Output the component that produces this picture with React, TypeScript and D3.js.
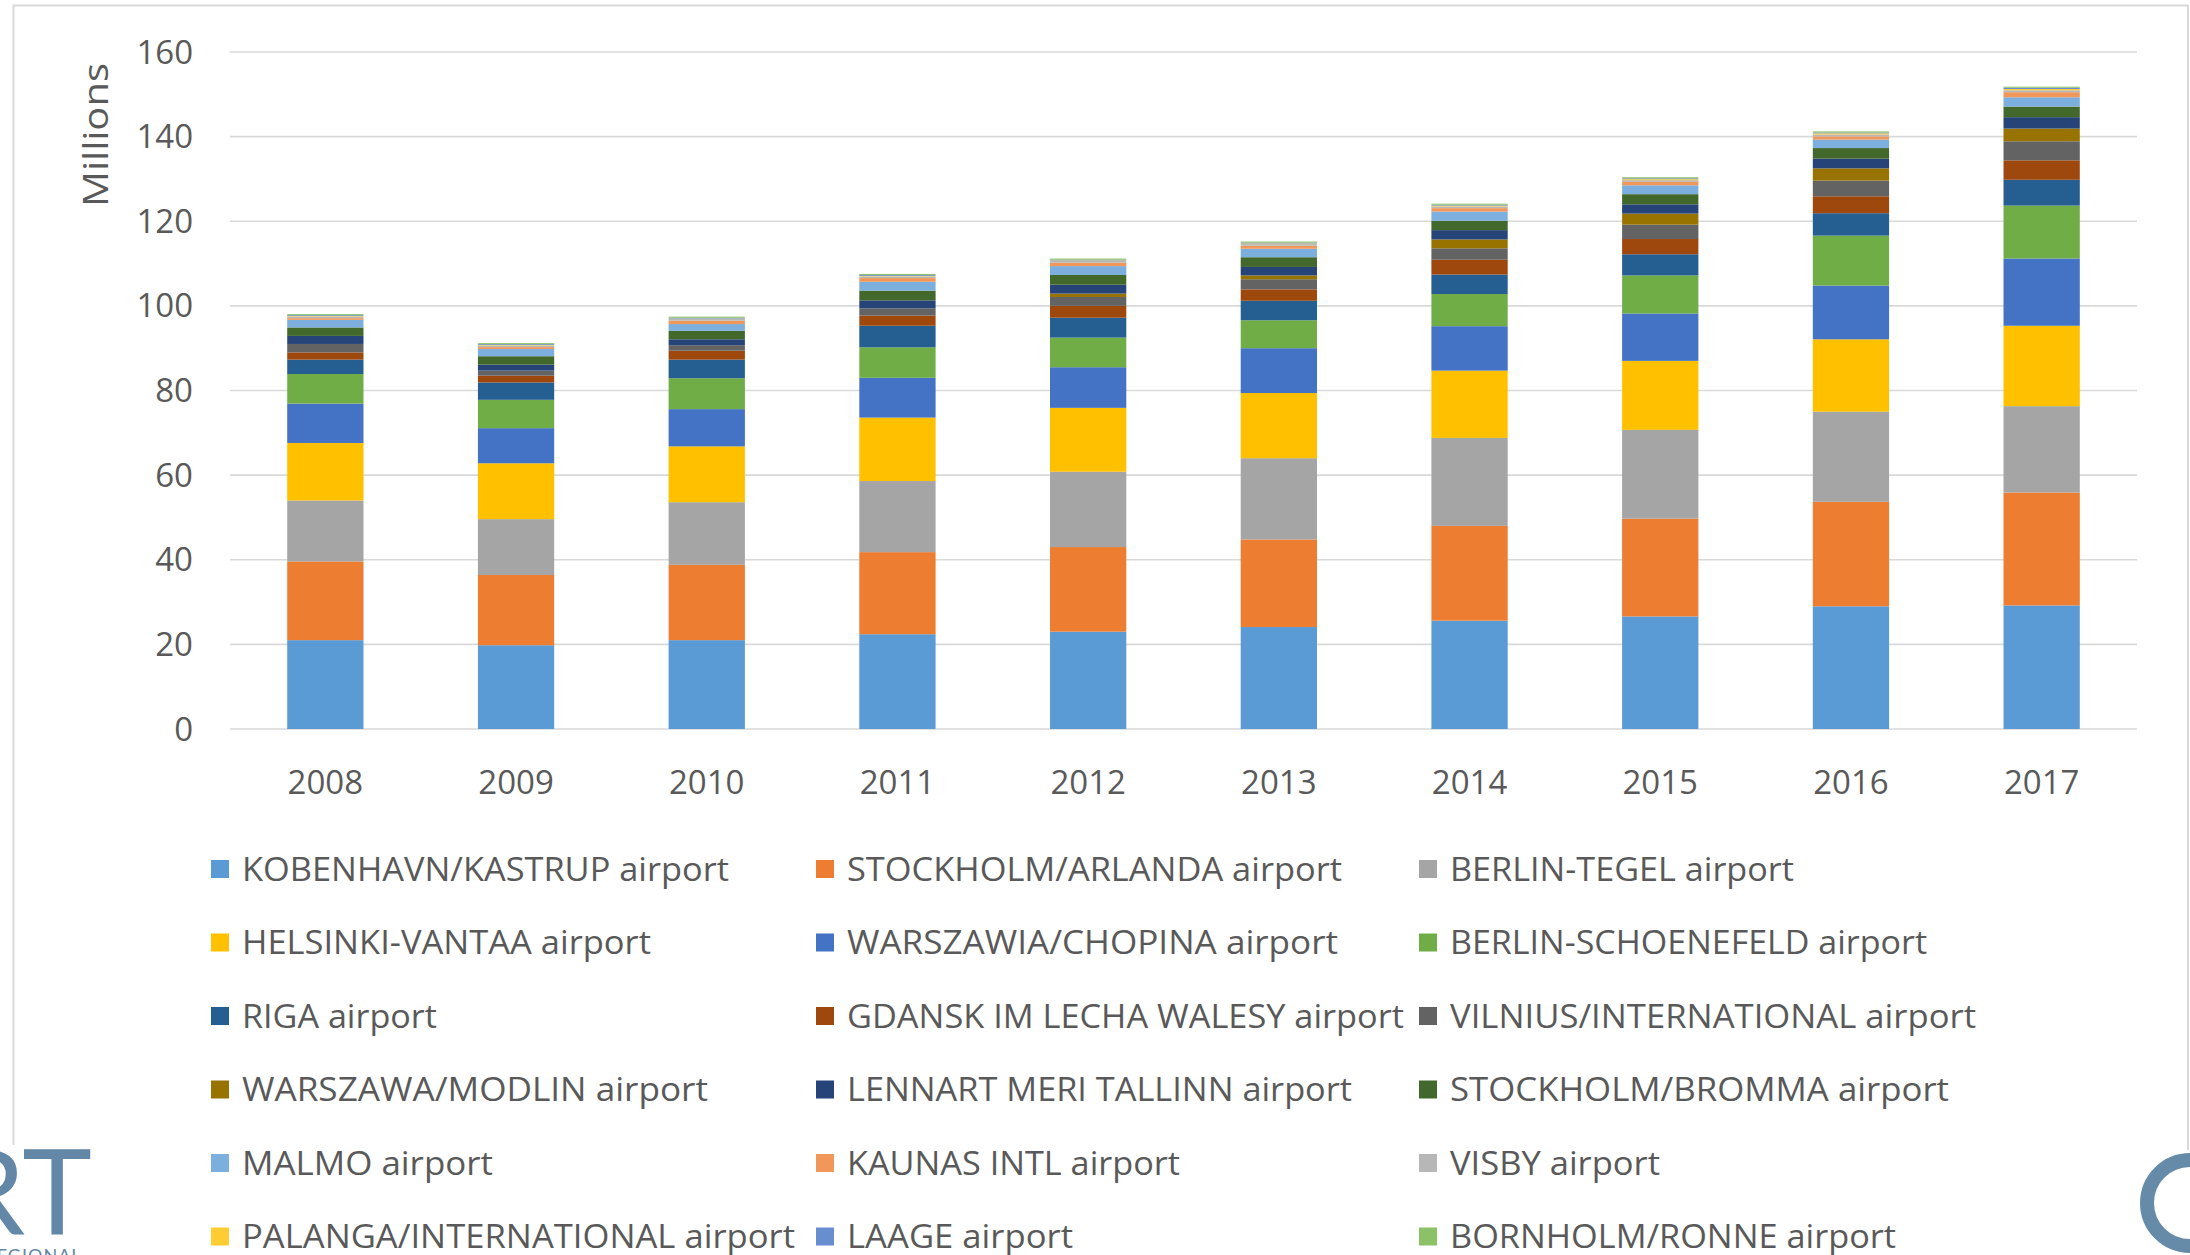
import React from "react";
import * as d3 from "d3";

const W = 2190;
const H = 1255;

const years = ["2008", "2009", "2010", "2011", "2012", "2013", "2014", "2015", "2016", "2017"];
const yTicks = [0, 20, 40, 60, 80, 100, 120, 140, 160];

// passengers, millions
const kobenhavn = [21.0, 19.8, 21.0, 22.4, 23.0, 24.1, 25.6, 26.6, 29.0, 29.2];
const arlanda = [18.6, 16.6, 17.8, 19.4, 20.0, 20.7, 22.4, 23.1, 24.7, 26.7];
const tegel = [14.4, 13.2, 14.8, 16.8, 17.8, 19.2, 20.8, 21.0, 21.3, 20.4];
const helsinki = [13.6, 13.2, 13.2, 15.0, 15.1, 15.4, 15.9, 16.3, 17.1, 19.0];
const chopina = [9.3, 8.3, 8.8, 9.4, 9.6, 10.6, 10.5, 11.2, 12.7, 15.9];
const schoenefeld = [7.0, 6.7, 7.3, 7.2, 7.0, 6.6, 7.6, 9.0, 11.8, 12.5];
const riga = [3.4, 4.1, 4.4, 5.1, 4.7, 4.6, 4.6, 5.0, 5.3, 6.1];
const gdansk = [1.7, 1.6, 2.1, 2.4, 2.8, 2.7, 3.5, 3.6, 4.0, 4.6];
const vilnius = [2.0, 1.2, 1.3, 1.7, 2.1, 2.4, 2.7, 3.4, 3.7, 4.5];
const modlin = [0, 0, 0, 0, 0.8, 0.9, 2.1, 2.6, 2.9, 3.0];
const tallinn = [1.9, 1.4, 1.4, 1.9, 2.1, 2.0, 2.2, 2.2, 2.3, 2.7];
const bromma = [2.0, 2.0, 2.0, 2.3, 2.3, 2.3, 2.2, 2.4, 2.5, 2.5];
const malmo = [1.8, 1.7, 1.6, 2.1, 2.1, 2.0, 2.2, 2.1, 2.0, 2.2];
const kaunas = [0.4, 0.45, 0.8, 0.87, 0.8, 0.7, 0.8, 0.8, 0.75, 1.2];
const visby = [0.4, 0.4, 0.4, 0.4, 0.4, 0.4, 0.4, 0.4, 0.45, 0.45];
const palanga = [0.1, 0.1, 0.1, 0.13, 0.13, 0.15, 0.2, 0.25, 0.28, 0.3];
const laage = [0.2, 0.2, 0.2, 0.2, 0.2, 0.2, 0.2, 0.2, 0.2, 0.3];
const bornholm = [0.25, 0.25, 0.25, 0.25, 0.25, 0.25, 0.25, 0.25, 0.25, 0.25];

const names = [
  "KOBENHAVN/KASTRUP airport",
  "STOCKHOLM/ARLANDA airport",
  "BERLIN-TEGEL airport",
  "HELSINKI-VANTAA airport",
  "WARSZAWIA/CHOPINA airport",
  "BERLIN-SCHOENEFELD airport",
  "RIGA airport",
  "GDANSK IM LECHA WALESY airport",
  "VILNIUS/INTERNATIONAL airport",
  "WARSZAWA/MODLIN airport",
  "LENNART MERI TALLINN airport",
  "STOCKHOLM/BROMMA airport",
  "MALMO airport",
  "KAUNAS INTL airport",
  "VISBY airport",
  "PALANGA/INTERNATIONAL airport",
  "LAAGE airport",
  "BORNHOLM/RONNE airport",
];
const colors = [
  "#5b9bd5", "#ed7d31", "#a5a5a5", "#ffc000", "#4472c4", "#70ad47",
  "#255e91", "#9e480e", "#636363", "#997300", "#264478", "#43682b",
  "#7cafdd", "#f1975a", "#b7b7b7", "#ffcd33", "#698ed0", "#8cc168",
];
const values = [
  kobenhavn, arlanda, tegel, helsinki, chopina, schoenefeld, riga, gdansk, vilnius,
  modlin, tallinn, bromma, malmo, kaunas, visby, palanga, laage, bornholm,
];
// measured label widths in the legend
const legendWidths = [487, 495, 344, 409, 491, 477, 195, 557, 526, 466, 505, 499, 251, 333, 210, 553, 226, 446];

const font = "'Open Sans', 'Noto Sans', sans-serif";
const textColor = "#595959";

export default function App() {
  const x = d3.scaleBand().domain(years).range([230, 2137]).paddingInner(0.6).paddingOuter(0.3);
  const y = d3.scaleLinear().domain([0, 160]).range([729, 52]);

  const rows = years.map((yr, i) => {
    const r: any = { year: yr };
    names.forEach((n, k) => (r[n] = values[k][i]));
    return r;
  });
  const stacked = d3.stack<any>().keys(names)(rows);

  const legendCols = [211, 816, 1419];
  const legendRow0 = 869;
  const legendStep = 73.5;

  return (
    <svg width={W} height={H} style={{ position: "absolute", left: 0, top: 0, display: "block", background: "#fff" }}>
      <rect x={0} y={0} width={W} height={H} fill="#fff" />
      {/* chart frame */}
      <path d={`M13.5,1150 V5.5 H2188 V1150`} fill="none" stroke="#d9d9d9" strokeWidth={2} />

      {yTicks.map((t) => (
        <g key={t}>
          <line x1={230} x2={2137} y1={y(t)} y2={y(t)} stroke="#d9d9d9" strokeWidth={1.6} />
          <text x={193} y={y(t)} dy="0.35em" textAnchor="end" fontFamily={font} fontSize={33} fill={textColor}>
            {t}
          </text>
        </g>
      ))}
      <text
        transform={`translate(108,135) rotate(-90)`}
        textAnchor="middle"
        fontFamily={font}
        fontSize={34}
        fill={textColor}
        textLength={144}
        lengthAdjust="spacingAndGlyphs"
      >
        Millions
      </text>

      {stacked.map((s, k) => (
        <g key={s.key} fill={colors[k]}>
          {s.map((d, i) => (
            <rect
              key={years[i]}
              x={x(years[i])}
              y={y(d[1])}
              width={x.bandwidth()}
              height={Math.max(0, y(d[0]) - y(d[1]))}
            />
          ))}
        </g>
      ))}

      {years.map((yr) => (
        <text
          key={yr}
          x={(x(yr) as number) + x.bandwidth() / 2}
          y={782}
          dy="0.35em"
          textAnchor="middle"
          fontFamily={font}
          fontSize={33}
          fill={textColor}
        >
          {yr}
        </text>
      ))}

      {names.map((n, k) => {
        const col = k % 3;
        const row = Math.floor(k / 3);
        const cy = legendRow0 + row * legendStep;
        const lx = legendCols[col];
        return (
          <g key={n}>
            <rect x={lx} y={cy - 9} width={18} height={18} fill={colors[k]} />
            <text
              x={lx + 31}
              y={cy}
              dy="0.36em"
              fontFamily={font}
              fontSize={32}
              fill={textColor}
              textLength={legendWidths[k]}
              lengthAdjust="spacingAndGlyphs"
            >
              {n}
            </text>
          </g>
        );
      })}

      {/* logo fragments at the bottom corners */}
      <rect x={0} y={1145} width={100} height={110} fill="#fff" />
      <text x={92} y={1234} textAnchor="end" fontFamily="Lato, 'Open Sans', sans-serif" fontSize={118} fill="#6388a7">
        RT
      </text>
      <text x={88} y={1262} textAnchor="end" fontFamily="Lato, 'Open Sans', sans-serif" fontSize={18} fill="#6388a7" letterSpacing={1}>
        REGIONAL-
      </text>
      <rect x={2132} y={1150} width={58} height={105} fill="#fff" />
      <circle cx={2190} cy={1203} r={43} fill="none" stroke="#668ba8" strokeWidth={14} />
    </svg>
  );
}
